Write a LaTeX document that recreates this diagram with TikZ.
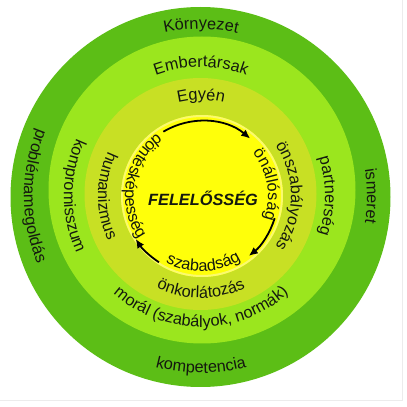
\documentclass[tikz,border=0pt]{standalone}
\usepackage{fontspec}
\setmainfont{Liberation Sans}
\usetikzlibrary{decorations.text,calc,arrows.meta}
\definecolor{dkgreen}{RGB}{92,190,22}
\definecolor{ltgreen}{RGB}{155,230,30}
\definecolor{ygreen}{RGB}{200,224,36}
\definecolor{core}{RGB}{255,255,10}
\definecolor{corerim}{RGB}{250,250,110}
\definecolor{txt}{RGB}{20,25,15}
\definecolor{frame}{RGB}{236,236,236}
\newcommand\rf{\fontsize{16.3bp}{19bp}\selectfont}
\tikzset{
  ctext/.style={decorate, decoration={text along path, text align=center,
      text={|\rf\color{txt}|#1}}},
  cyc/.style={-{Latex[length=9bp,width=8bp]}, line width=1.8bp, black}
}
\begin{document}
\begin{tikzpicture}[x=1bp,y=1bp]
\useasboundingbox (0,0) rectangle (407,407);
\coordinate (C0) at (200.5,210);
\coordinate (C1) at (202,217);
\coordinate (C2) at (200.5,213);
\coordinate (C3) at (202,211);
\coordinate (T) at (201,211);
% frame
\draw[frame, line width=1bp] (402,407) -- (402,7) -- (0,7);
% rings
\fill[dkgreen] (C0) circle[radius=190];
\fill[ltgreen] (C1) circle[radius=153.5];
\fill[ygreen] (C2) circle[radius=116];
\fill[core] (C3) circle[radius=81];
\draw[corerim, line width=2bp] (C3) circle[radius=80];
% centre title
\node[anchor=base, font=\rf\bfseries\itshape, text=txt, inner sep=0] (title) at (203,202) {FELELŐSSÉG};
% cycle arrows
\draw[cyc] ($(C3)+(121:75)$) arc[start angle=121, end angle=50, radius=75];
\draw[cyc] ($(C3)+(-17:76)$) arc[start angle=-17, end angle=-52, radius=76];
\draw[cyc] ($(C3)+(237:79)$) arc[start angle=237, end angle=213, radius=79];
% top texts (clockwise, tops outward)
\path[ctext={Környezet}] ($(T)+(150:167)$) arc[start angle=150, end angle=30, radius=167];
\path[ctext={Embertársak}] ($(T)+(150:129)$) arc[start angle=150, end angle=30, radius=129];
\path[ctext={Egyén}] ($(T)+(150:96)$) arc[start angle=150, end angle=30, radius=96];
% left texts (counter-clockwise, tops inward)
\path[ctext={problémamegoldás}] ($(T)+(120:177)$) arc[start angle=120, end angle=240, radius=177];
\path[ctext={kompromisszum}] ($(T)+(120:137)$) arc[start angle=120, end angle=240, radius=137];
\path[ctext={humanizmus}] ($(T)+(120:103)$) arc[start angle=120, end angle=240, radius=103];
\path[ctext={döntésképesség}] ($(T)+(110:76)$) arc[start angle=110, end angle=230, radius=76];
% right texts (clockwise, tops outward)
\path[ctext={ismeret}] ($(T)+(60:166)$) arc[start angle=60, end angle=-60, radius=166];
\path[ctext={partnerség}] ($(T)+(60:124)$) arc[start angle=60, end angle=-60, radius=124];
\path[ctext={önszabályozás}] ($(T)+(60:90)$) arc[start angle=60, end angle=-60, radius=90];
\path[ctext={önállóság}] ($(T)+(70:67)$) arc[start angle=70, end angle=-50, radius=67];
% bottom texts (counter-clockwise, tops inward)
\path[ctext={kompetencia}] ($(T)+(210:177)$) arc[start angle=210, end angle=330, radius=177];
\path[ctext={morál (szabályok, normák)}] ($(T)+(210:131)$) arc[start angle=210, end angle=330, radius=131];
\path[ctext={önkorlátozás}] ($(T)+(210:102)$) arc[start angle=210, end angle=330, radius=102];
\path[ctext={szabadság}] ($(T)+(212:75.5)$) arc[start angle=212, end angle=332, radius=75.5];
\end{tikzpicture}
\end{document}
